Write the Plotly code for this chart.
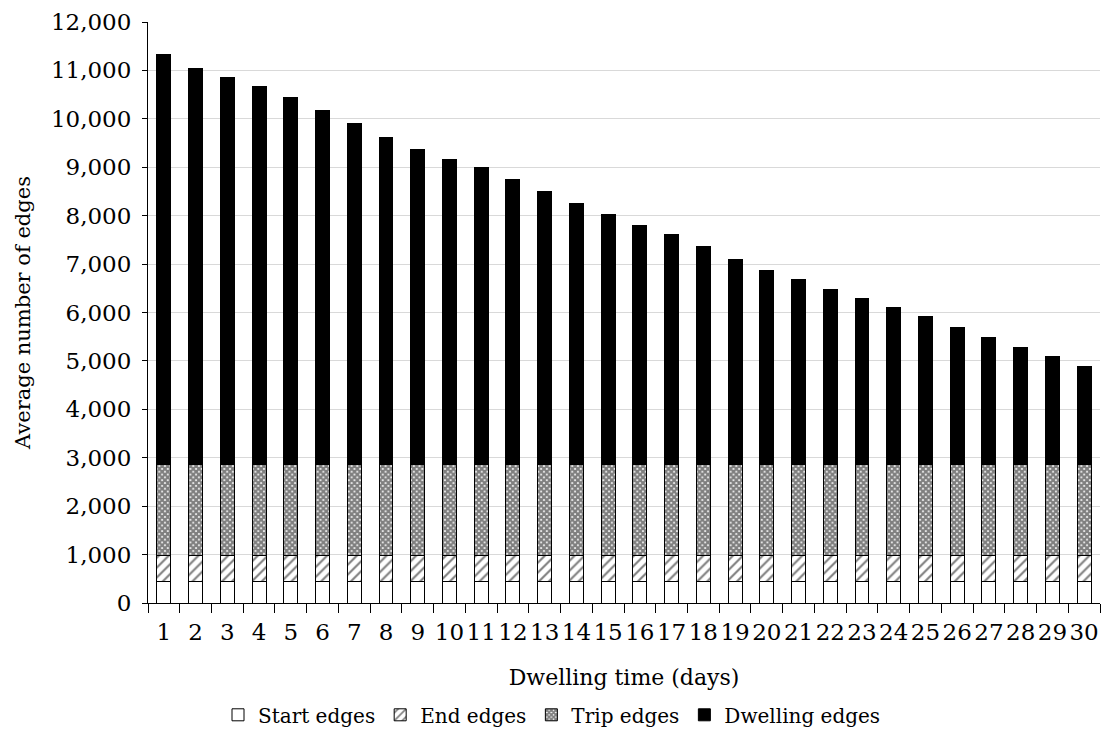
import plotly.graph_objects as go

days = [str(d) for d in range(1, 31)]
start_edges = [450] * 30
end_edges = [540] * 30
trip_edges = [1870] * 30
totals = [11330, 11050, 10855, 10675, 10435, 10175, 9905, 9615, 9365, 9165,
          8990, 8755, 8495, 8255, 8015, 7805, 7615, 7365, 7095, 6875,
          6680, 6475, 6285, 6110, 5925, 5700, 5475, 5285, 5085, 4885]
base = [s + e + t for s, e, t in zip(start_edges, end_edges, trip_edges)]
dwelling_edges = [tot - b for tot, b in zip(totals, base)]

FONT = "DejaVu Serif"
line = dict(color="black", width=1)

fig = go.Figure()
fig.add_trace(go.Bar(x=days, y=start_edges, name="Start edges",
                     marker=dict(color="white", line=line)))
fig.add_trace(go.Bar(x=days, y=end_edges, name="End edges",
                     marker=dict(color="white", line=line,
                                 pattern=dict(shape="/", fgcolor="black", bgcolor="white",
                                              size=7, solidity=0.3))))
fig.add_trace(go.Bar(x=days, y=trip_edges, name="Trip edges",
                     marker=dict(color="white", line=line,
                                 pattern=dict(shape="x", fgcolor="black", bgcolor="white",
                                              size=4, solidity=0.8))))
fig.add_trace(go.Bar(x=days, y=dwelling_edges, name="Dwelling edges",
                     marker=dict(color="black", line=line)))

fig.update_layout(
    barmode="stack",
    bargap=0.56,
    width=1104, height=738,
    margin=dict(l=148, r=4, t=22, b=135),
    paper_bgcolor="white", plot_bgcolor="white",
    font=dict(family=FONT, size=19, color="black"),
    legend=dict(orientation="h", xref="container", x=0.5, xanchor="center",
                yref="container", y=0.005, yanchor="bottom",
                itemwidth=30,
                font=dict(family=FONT, size=20), traceorder="normal"),
    showlegend=True,
)
fig.update_xaxes(
    title=dict(text="Dwelling time (days)", standoff=26,
               font=dict(family=FONT, size=22)),
    showline=True, linecolor="black", linewidth=1,
    ticks="outside", tickson="boundaries", ticklen=9, tickcolor="black",
    tickangle=0, automargin=False, ticklabelstandoff=8,
    tickfont=dict(size=23),
)
fig.update_yaxes(
    title=dict(text="Average number of edges", standoff=14, font=dict(size=21)),
    range=[0, 12000], dtick=1000, tickformat=",d",
    showline=True, linecolor="black", linewidth=1,
    ticks="outside", ticklen=5, tickcolor="black",
    ticklabelstandoff=6,
    showgrid=True, gridcolor="#d9d9d9", gridwidth=1,
    zeroline=False, automargin=False,
    tickfont=dict(size=23),
)

fig.write_html("out.html")
